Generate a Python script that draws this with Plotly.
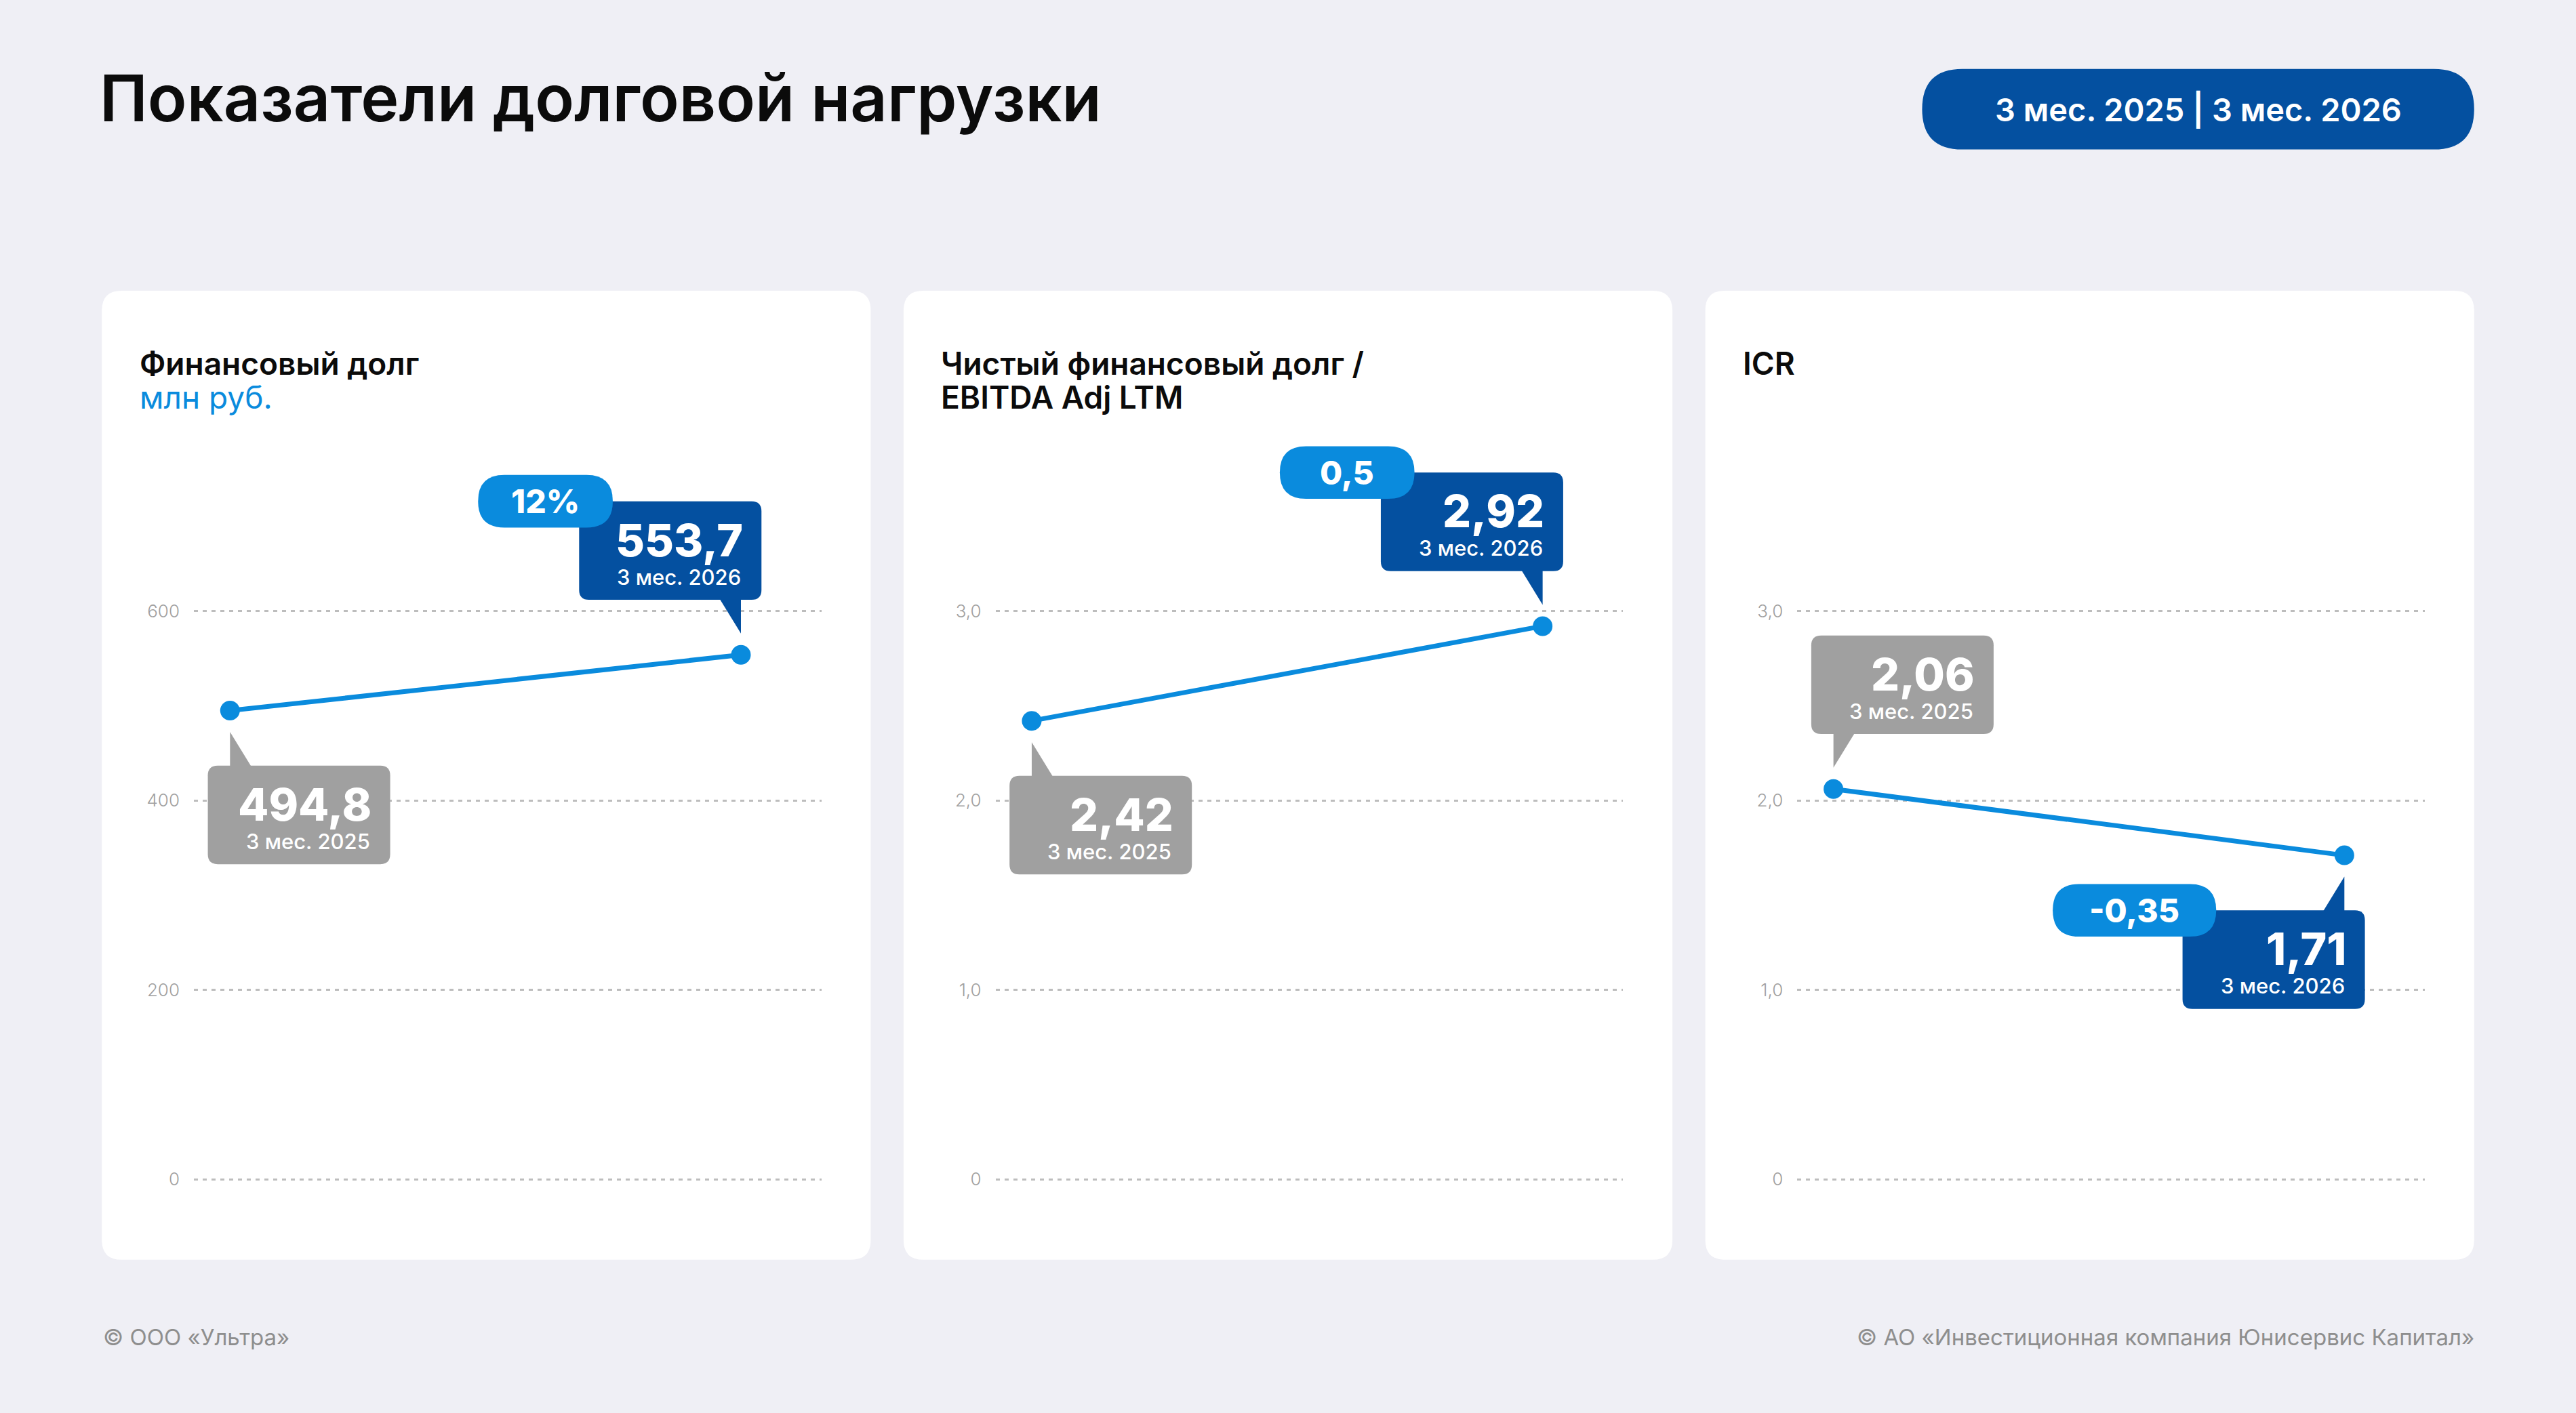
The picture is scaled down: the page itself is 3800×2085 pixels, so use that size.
import plotly.graph_objects as go

# ---------------- data ----------------
categories = ["3 мес. 2025", "3 мес. 2026"]
page_title = "Показатели долговой нагрузки"
header_period = "3 мес. 2025 | 3 мес. 2026"
chart_titles = ["Финансовый долг", "Чистый финансовый долг /<br>EBITDA Adj LTM", "ICR"]
chart_units = ["млн руб.", "", ""]
debt_values = [494.8, 553.7]
leverage_values = [2.42, 2.92]
icr_values = [2.06, 1.71]
change_labels = ["12%", "0,5", "-0,35"]
value_decimals = [1, 2, 2]
debt_ticks = [0, 200, 400, 600]
debt_tick_labels = ["0", "200", "400", "600"]
ratio_ticks = [0, 1, 2, 3]
ratio_tick_labels = ["0", "1,0", "2,0", "3,0"]
footer_left = "© ООО «Ультра»"
footer_right = "© АО «Инвестиционная компания Юнисервис Капитал»"

series = [debt_values, leverage_values, icr_values]
ticks = [debt_ticks, ratio_ticks, ratio_ticks]
tick_labels = [debt_tick_labels, ratio_tick_labels, ratio_tick_labels]

# ---------------- styling ----------------
W, H = 3800, 2085
S = W / 1568.0  # design units -> pixels
BG = "#EFEFF5"
DARK = "#0450A0"
LIGHT = "#0A8BDD"
GREY = "#A0A0A0"
FONT = "Inter"

CARD_X = [62, 550, 1038]
CARD_W, CARD_T, CARD_B = 468, 177, 767
GRID_L, GRID_R = 56, 438      # offsets inside card
P0, P1 = 78, 389              # point x offsets inside card
Y_ZERO, Y_TOP = 718, 372
PLOT_TOP = 250                # plot area extends up so callouts are not clipped


def fx(v):
    return v * S / W


def fy(v):
    return 1 - v * S / H


def rounded(l, t, r, b, rad, m):
    pts = [("M", [(l + rad, t)]), ("L", [(r - rad, t)]), ("Q", [(r, t), (r, t + rad)]),
           ("L", [(r, b - rad)]), ("Q", [(r, b), (r - rad, b)]), ("L", [(l + rad, b)]),
           ("Q", [(l, b), (l, b - rad)]), ("L", [(l, t + rad)]), ("Q", [(l, t), (l + rad, t)])]
    out = []
    for cmd, ps in pts:
        out.append(cmd + " " + " ".join("%.5f,%.5f" % m(x, y) for x, y in ps))
    return " ".join(out) + " Z"


def poly(ps, m):
    return "M " + " L ".join("%.5f,%.5f" % m(x, y) for x, y in ps) + " Z"


paper_map = lambda x, y: (fx(x), fy(y))
pix_map = lambda x, y: (x * S, -y * S)

fig = go.Figure()
shapes = []
annotations = []

# background cards
for cx in CARD_X:
    shapes.append(dict(type="path", xref="paper", yref="paper", layer="below",
                       path=rounded(cx, CARD_T, cx + CARD_W, CARD_B, 12, paper_map),
                       fillcolor="white", line=dict(width=0)))

# header pill
shapes.append(dict(type="path", xref="paper", yref="paper",
                   path=rounded(1170, 42, 1506, 91, 24.5, paper_map),
                   fillcolor=DARK, line=dict(width=0)))
annotations.append(dict(xref="paper", yref="paper", x=fx(1338), y=fy(66.5), text=header_period,
                        showarrow=False, xanchor="center", yanchor="middle",
                        font=dict(family=FONT, size=47, color="white", weight=600)))

annotations.append(dict(xref="paper", yref="paper", x=fx(60), y=fy(59.5), text=page_title,
                        showarrow=False, xanchor="left", yanchor="middle",
                        font=dict(family=FONT, size=95, color="#0B0B0B", weight=600)))
annotations.append(dict(xref="paper", yref="paper", x=fx(62), y=fy(814), text=footer_left,
                        showarrow=False, xanchor="left", yanchor="middle",
                        font=dict(family=FONT, size=33, color="#8E8E8E")))
annotations.append(dict(xref="paper", yref="paper", x=fx(1507), y=fy(814), text=footer_right,
                        showarrow=False, xanchor="right", yanchor="middle",
                        font=dict(family=FONT, size=33, color="#8E8E8E")))

layout_axes = {}
for i, (cx, vals) in enumerate(zip(CARD_X, series)):
    n = "" if i == 0 else str(i + 1)
    xr, yr = "x" + n, "y" + n
    top = ticks[i][-1]
    per = (Y_ZERO - Y_TOP) / top
    pad = 0.05 * top
    top_extra = (Y_TOP - PLOT_TOP) / per
    span = P1 - P0
    xs = list(range(len(categories)))
    layout_axes["xaxis" + n] = dict(
        domain=[fx(cx + GRID_L), fx(cx + GRID_R)],
        range=[-(P0 - GRID_L) / span, 1 + (GRID_R - P1) / span],
        visible=False, fixedrange=True, anchor=yr)
    layout_axes["yaxis" + n] = dict(
        domain=[fy(Y_ZERO + pad * per), fy(PLOT_TOP)],
        range=[-pad, top + top_extra], anchor=xr,
        tickvals=ticks[i], ticktext=tick_labels[i],
        showgrid=True, gridcolor="#BDBDBD", gridwidth=2.5, griddash="6px,7px",
        zeroline=False, showline=False, ticks="", ticklabelstandoff=20,
        tickfont=dict(family=FONT, size=26, color="#A0A0A0", weight=300))

    fig.add_trace(go.Scatter(x=xs, y=vals, mode="lines+markers", xaxis=xr, yaxis=yr,
                             line=dict(color=LIGHT, width=7),
                             marker=dict(color=LIGHT, size=29), cliponaxis=False,
                             showlegend=False, hoverinfo="skip"))

    # card titles (each line placed separately for tight leading)
    lines = chart_titles[i].split("<br>")
    if chart_units[i]:
        lines_styles = [(lines[0], "#0B0B0B", 600), (chart_units[i], LIGHT, 400)]
    else:
        lines_styles = [(ln, "#0B0B0B", 600) for ln in lines]
    for j, (txt, col, wt) in enumerate(lines_styles):
        annotations.append(dict(xref="paper", yref="paper", x=fx(cx + 22), y=fy(221 + 21 * j), text=txt,
                                showarrow=False, xanchor="left", yanchor="middle", align="left",
                                font=dict(family=FONT, size=46, color=col, weight=wt)))

    up = vals[1] > vals[0]
    for k, v in enumerate(vals):
        first = k == 0
        below = (up and first) or ((not up) and not first)
        s = 1 if below else -1
        if first:
            l, r, color = -13.5, 97.5, GREY
            tail_dx = 13.5
        else:
            l, r, color = -98.5, 12.5, DARK
            tail_dx = -13.5
        t = 33.5 if below else -93.5
        b = t + 60
        near = t if below else b
        anchor = dict(xref=xr, yref=yr, xsizemode="pixel", ysizemode="pixel",
                      xanchor=xs[k], yanchor=v, type="path", line=dict(width=0), fillcolor=color)
        shapes.append(dict(anchor, path=rounded(l, t, r, b, 6, pix_map)))
        shapes.append(dict(anchor, path=poly([(0, s * 13), (0, near + s * 1.5), (tail_dx, near + s * 1.5)], pix_map)))
        label = ("%.*f" % (value_decimals[i], v)).replace(".", ",")
        annotations.append(dict(xref=xr, yref=yr, x=xs[k], y=v, xshift=(r - 10.5) * S,
                                yshift=-(t + 23.5) * S, text=label, showarrow=False,
                                xanchor="right", yanchor="middle",
                                font=dict(family=FONT, size=66, color="white", weight=800)))
        annotations.append(dict(xref=xr, yref=yr, x=xs[k], y=v, xshift=(r - 11.5) * S,
                                yshift=-(t + 46) * S, text=categories[k], showarrow=False,
                                xanchor="right", yanchor="middle",
                                font=dict(family=FONT, size=31, color="white", weight=500)))
        if not first:
            pw = max(82, 47 + 10.5 * len(change_labels[i]))
            pr = -78
            pt = t - 16
            shapes.append(dict(anchor, fillcolor=LIGHT,
                               path=rounded(pr - pw, pt, pr, pt + 32, 16, pix_map)))
            annotations.append(dict(xref=xr, yref=yr, x=xs[k], y=v, xshift=(pr - pw / 2) * S,
                                    yshift=-(pt + 16) * S, text=change_labels[i], showarrow=False,
                                    xanchor="center", yanchor="middle",
                                    font=dict(family=FONT, size=48, color="white", weight=800)))

fig.update_layout(width=W, height=H, margin=dict(l=0, r=0, t=0, b=0),
                  paper_bgcolor=BG, plot_bgcolor="rgba(0,0,0,0)",
                  shapes=shapes, annotations=annotations, showlegend=False, **layout_axes)
fig.write_html("out.html", config={"displayModeBar": False},
               post_script="document.body.style.margin='0';document.body.style.overflow='hidden';")
